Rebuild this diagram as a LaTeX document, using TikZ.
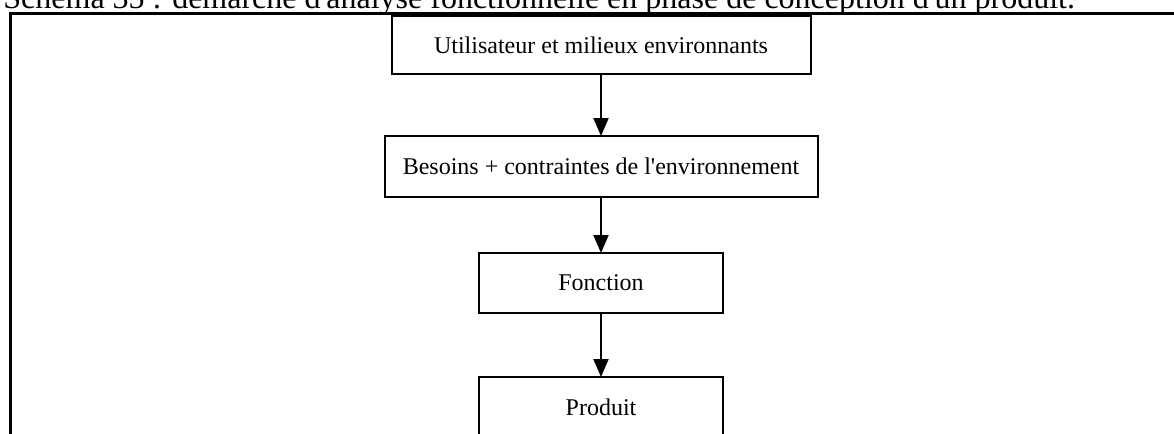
\documentclass[tikz,border=0pt]{standalone}
\usepackage{fontspec}
\setmainfont{Liberation Serif}
\usetikzlibrary{arrows.meta, positioning}

\begin{document}
\begin{tikzpicture}[x=0.5pt, y=-0.5pt, >={Triangle[length=9pt,width=7.5pt]}, font=\fontsize{12}{14}\selectfont]
    \tikzstyle{box} = [rectangle, draw=black, line width=1pt, fill=white, text centered, inner sep=0pt, outer sep=0pt, minimum height=30pt]
    \tikzstyle{frame} = [line width=1.5pt]
    \tikzstyle{link} = [->, line width=1pt]

    \useasboundingbox (0,0) rectangle (1174,434);
    \clip (0,0) rectangle (1174,434);

    % Title (cut off at the top) and frame
    \node [anchor=base west, inner sep=0pt, font=\fontsize{16}{19}\selectfont] (title) at (3,8) {Schéma 35 : démarche d\textquotesingle analyse fonctionnelle en phase de conception d\textquotesingle un produit.};
    \draw [frame] (1190,13) -- (10,13) -- (10,450);

    % Boxes
    \node [box, minimum width=209.5pt, minimum height=29pt] (user) at (601,45) {Utilisateur et milieux environnants};
    \node [box, minimum width=216.5pt, minimum height=30.5pt, below=31pt of user] (needs) {Besoins + contraintes de l\textquotesingle environnement};
    \node [box, minimum width=122pt, below=28pt of needs] (function) {Fonction};
    \node [box, minimum width=122pt, below=32pt of function] (product) {Produit};

    % Connections
    \draw [link] (user) -- (needs);
    \draw [link] (needs) -- (function);
    \draw [link] (function) -- (product);
\end{tikzpicture}
\end{document}
